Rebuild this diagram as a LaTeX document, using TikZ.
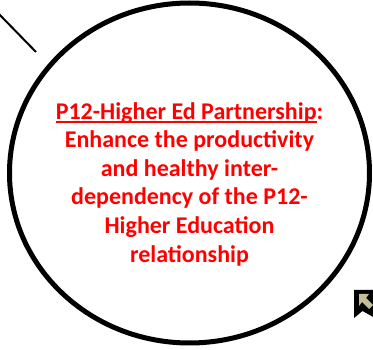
\documentclass[tikz,border=0pt]{standalone}
\usepackage{fontspec}
\setmainfont{Carlito}
\newcommand\ulthick[1]{\setbox0\hbox{#1}\rlap{\rule[-3.8pt]{\wd0}{2pt}}\box0}
\definecolor{tanfill}{RGB}{196,189,151}
\begin{document}
\begin{tikzpicture}[x=1pt,y=-1pt,
  goaltext/.style={text=red,font=\bfseries\fontsize{24}{28.6}\selectfont,
    align=center,inner sep=0pt}]
\useasboundingbox (0,0) rectangle (373,350);
% pointer line entering from the upper left
\coordinate (lineA) at (-3,12);
\coordinate (lineB) at (36,52);
\draw[line width=2pt] (lineA) -- (lineB);
% the goal ellipse
\draw[line width=5pt] (189.5,173) ellipse [x radius=180, y radius=170];
\node[goaltext,anchor=north] (goal) at (189.5,102)
  {\ulthick{P12-Higher Ed Partnership}:\\
   Enhance the productivity\\
   and healthy inter-\\
   dependency of the P12-\\
   Higher Education\\
   relationship};
% small arrow icon in the corner
\fill[black] (354,290) -- (375,290) -- (375,318) -- (362.5,311) -- (354,318) -- cycle;
\fill[tanfill] (359,294) -- (369,294) -- (366,298) -- (373,305) -- (369,309) -- (362,302) -- (359,306) -- cycle;
\end{tikzpicture}
\end{document}
